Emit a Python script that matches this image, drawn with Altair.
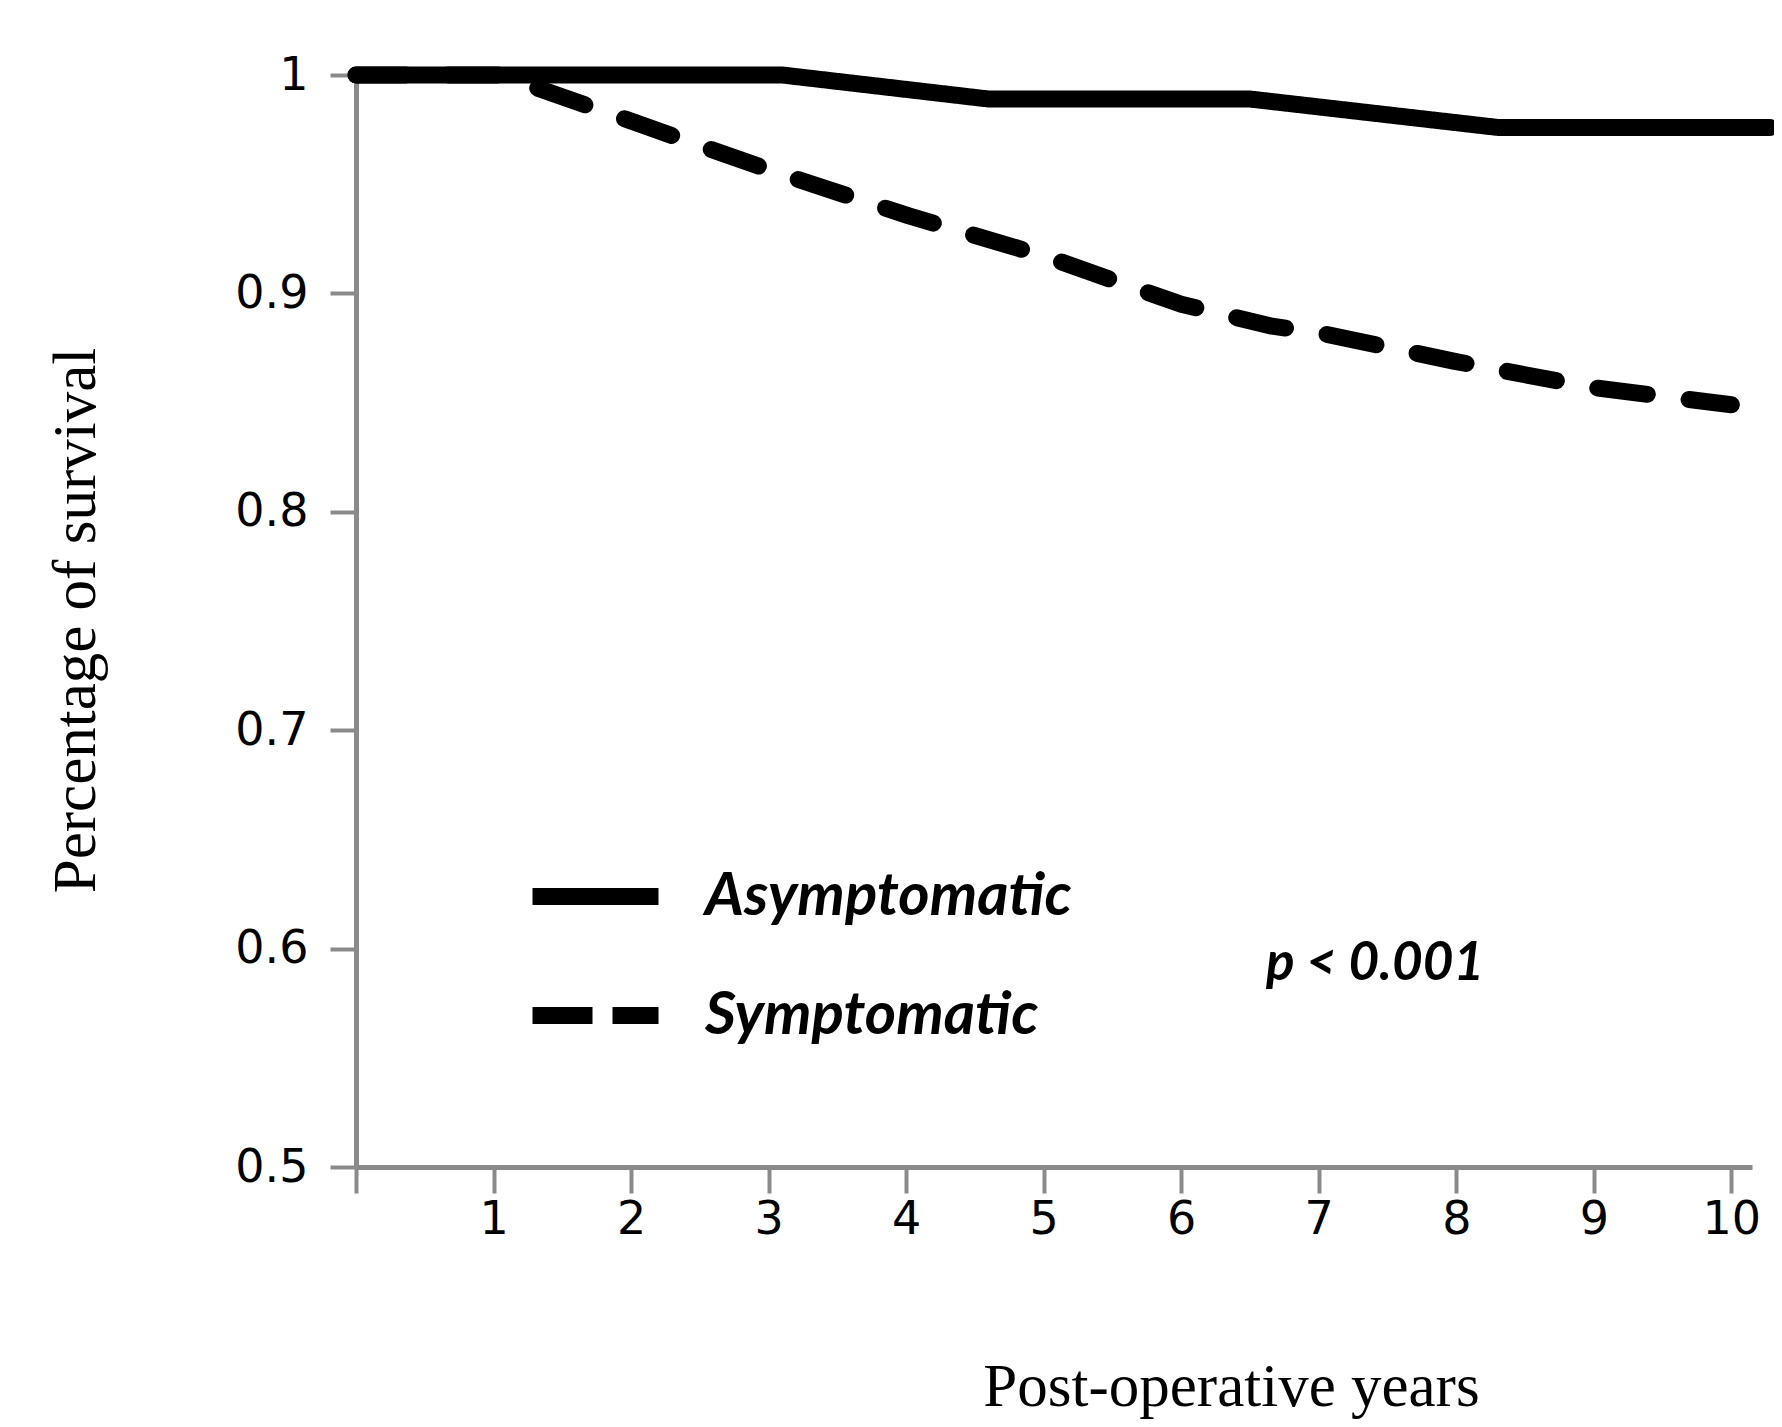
import altair as alt
import pandas as pd

# ---- data ----
groups = ["Asymptomatic", "Symptomatic"]
years_asym = [0, 3.1, 4.6, 6.5, 8.3, 10.28]
surv_asym = [1.0, 1.0, 0.989, 0.989, 0.976, 0.976]
years_sym = [0, 1.05, 2.04, 3.03, 4.02, 5.01, 6.0, 6.66, 7.0, 7.98, 8.98, 10.0]
surv_sym = [1.0, 1.0, 0.978, 0.956, 0.9355, 0.917, 0.895, 0.885, 0.882, 0.869, 0.857, 0.849]
x_ticks = [0, 1, 2, 3, 4, 5, 6, 7, 8, 9, 10]
y_ticks = [0.5, 0.6, 0.7, 0.8, 0.9, 1.0]
p_label = ["p < 0.001"]
p_year = [7.41]
p_surv = [0.593]

df = pd.DataFrame({
    "year": years_asym + years_sym,
    "surv": surv_asym + surv_sym,
    "group": [groups[0]] * len(years_asym) + [groups[1]] * len(years_sym),
})
ann = pd.DataFrame({"year": p_year, "surv": p_surv, "label": p_label})

AX = "#8a8a8a"

x_enc = alt.X(
    "year:Q",
    scale=alt.Scale(domain=[0, 10.15], nice=False, zero=False),
    axis=alt.Axis(
        values=x_ticks,
        format="d",
        labelExpr="datum.value == 0 ? '' : datum.label",
        title="Post-operative years",
        titleX=875, titleY=238, titleAlign="center", titleBaseline="alphabetic",
        labelPadding=4,
    ),
)
y_enc = alt.Y(
    "surv:Q",
    scale=alt.Scale(domain=[0.5, 1.0], nice=False, zero=False),
    axis=alt.Axis(
        values=y_ticks,
        format=".1~f",
        title="Percentage of survival",
        titleAngle=270, titleX=-262, titleY=545,
        titleAlign="center", titleBaseline="alphabetic",
        labelPadding=22,
    ),
)

curves = alt.Chart(df).mark_line(
    color="black", strokeWidth=17, strokeCap="round", strokeJoin="round", clip=False
).encode(
    x=x_enc,
    y=y_enc,
    detail="group:N",
    order="year:Q",
    strokeDash=alt.StrokeDash(
        "group:N",
        scale=alt.Scale(domain=groups, range=[[1, 0], [50, 42]]),
        legend=None,
    ),
)

legend_layer = alt.Chart(df).transform_filter("false").mark_line(color="black").encode(
    x="year:Q",
    y="surv:Q",
    strokeDash=alt.StrokeDash(
        "group:N",
        scale=alt.Scale(domain=groups, range=[[1, 0], [60, 20]]),
        legend=alt.Legend(
            title=None,
            orient="none",
            legendX=168,
            legendY=750,
            padding=0,
            symbolType="stroke",
            symbolSize=15876,
            symbolStrokeWidth=17,
            symbolStrokeColor="black",
            labelFont="Lato",
            labelFontSize=60,
            labelFontStyle="italic",
            labelFontWeight="bold",
            labelColor="black",
            labelOffset=38,
            labelLimit=600,
            rowPadding=13,
        ),
    ),
)

ptext = alt.Chart(ann).mark_text(
    font="Lato", fontSize=53, fontStyle="italic", fontWeight="bold",
    color="black", align="center", baseline="middle",
).encode(x="year:Q", y="surv:Q", text="label:N")

chart = alt.layer(curves, legend_layer, ptext).resolve_scale(
    strokeDash="independent"
).properties(
    width=1396,
    height=1092,
    autosize=alt.AutoSizeParams(type="none"),
    padding={"left": 348, "top": 67, "right": 22, "bottom": 252},
    background="white",
).configure_view(stroke=None).configure_axis(
    grid=False,
    domainColor=AX,
    domainWidth=5,
    tickColor=AX,
    tickWidth=4,
    tickSize=26,
    labelFont="DejaVu Sans",
    labelFontSize=46,
    labelColor="black",
    titleFont="Liberation Serif",
    titleFontSize=61,
    titleFontWeight="normal",
    titleColor="black",
)

chart.save("out.html", embed_options={"renderer": "svg", "actions": False})
